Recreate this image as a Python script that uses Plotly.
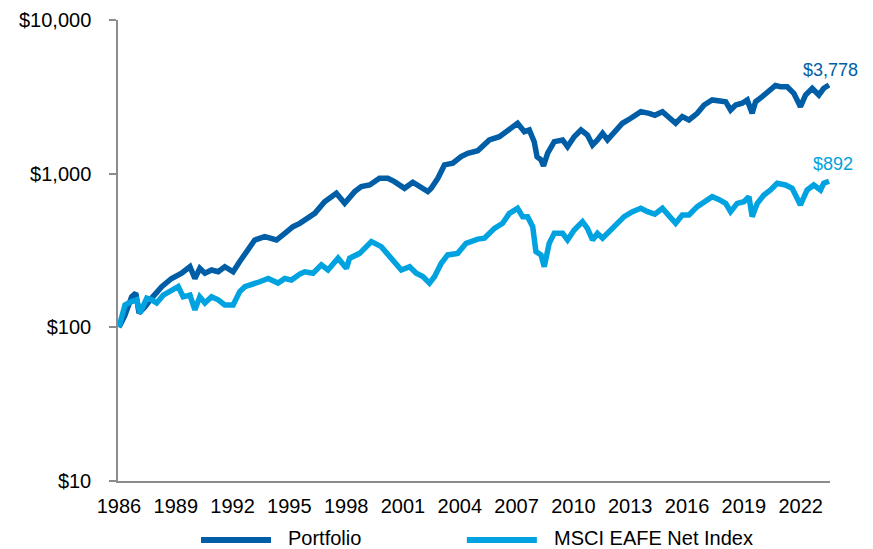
"""Growth of $100: Portfolio vs MSCI EAFE Net Index (log scale)."""

import plotly.graph_objects as go

# Portfolio, growth of $100 (x in axis years)
portfolio_years = [
    1986.00, 1986.32, 1986.67, 1986.89, 1987.06, 1987.38, 1987.73, 1988.26, 1988.78, 1989.31,
    1989.75, 1990.01, 1990.27, 1990.54, 1990.89, 1991.24, 1991.59, 1992.03, 1992.38, 1992.65,
    1992.82, 1993.17, 1993.70, 1994.32, 1994.76, 1995.19, 1995.55, 1995.81, 1996.34, 1996.86,
    1997.48, 1997.92, 1998.45, 1998.80, 1999.24, 1999.76, 2000.20, 2000.55, 2001.08, 2001.52,
    2001.96, 2002.31, 2002.49, 2002.84, 2003.19, 2003.63, 2004.07, 2004.42, 2004.95, 2005.56,
    2006.09, 2006.53, 2007.05, 2007.41, 2007.67, 2007.93, 2008.08, 2008.29, 2008.42, 2008.64,
    2008.99, 2009.43, 2009.69, 2010.04, 2010.40, 2010.74, 2011.01, 2011.27, 2011.54, 2011.80,
    2012.15, 2012.59, 2013.03, 2013.56, 2014.00, 2014.30, 2014.70, 2015.05, 2015.40, 2015.75,
    2016.10, 2016.54, 2016.90, 2017.33, 2017.67, 2018.04, 2018.30, 2018.57, 2018.91, 2019.18,
    2019.44, 2019.62, 2019.97, 2020.32, 2020.67, 2020.94, 2021.29, 2021.64, 2021.99, 2022.26,
    2022.61, 2022.96, 2023.22, 2023.50,
]
portfolio_values = [
    100, 120, 158, 167, 124, 136, 155, 184, 208, 225,
    248, 208, 242, 225, 236, 230, 248, 230, 268, 303,
    319, 370, 389, 370, 409, 452, 475, 500, 552, 657,
    745, 641, 764, 823, 844, 933, 933, 887, 803, 880,
    803, 764, 803, 933, 1140, 1169, 1290, 1358, 1410, 1657,
    1741, 1924, 2128, 1876, 1924, 1615, 1290, 1228, 1122, 1358,
    1615, 1657, 1499, 1741, 1924, 1786, 1537, 1657, 1832, 1657,
    1876, 2128, 2293, 2532, 2471, 2400, 2532, 2350, 2128, 2350,
    2236, 2471, 2799, 3017, 2980, 2940, 2597, 2799, 2871, 3017,
    2471, 2940, 3170, 3417, 3750, 3681, 3681, 3333, 2729, 3251,
    3594, 3251, 3594, 3778,
]

# MSCI EAFE Net Index, growth of $100
msci_years = [
    1986.00, 1986.32, 1986.67, 1986.94, 1987.11, 1987.47, 1987.73, 1987.99, 1988.34, 1988.69,
    1989.13, 1989.39, 1989.75, 1990.01, 1990.27, 1990.54, 1990.89, 1991.24, 1991.59, 1992.03,
    1992.38, 1992.65, 1993.00, 1993.44, 1993.88, 1994.40, 1994.76, 1995.11, 1995.55, 1995.81,
    1996.25, 1996.69, 1997.04, 1997.57, 1998.01, 1998.18, 1998.71, 1999.33, 1999.85, 2000.38,
    2000.91, 2001.35, 2001.70, 2002.05, 2002.40, 2002.67, 2003.02, 2003.36, 2003.89, 2004.33,
    2004.95, 2005.30, 2005.83, 2006.26, 2006.62, 2007.05, 2007.32, 2007.58, 2007.85, 2008.02,
    2008.29, 2008.46, 2008.72, 2008.99, 2009.43, 2009.69, 2010.04, 2010.48, 2010.74, 2011.01,
    2011.27, 2011.54, 2011.80, 2012.24, 2012.68, 2013.12, 2013.56, 2013.91, 2014.30, 2014.70,
    2015.05, 2015.40, 2015.75, 2016.10, 2016.54, 2016.90, 2017.33, 2017.67, 2018.04, 2018.30,
    2018.65, 2019.00, 2019.27, 2019.44, 2019.71, 2020.06, 2020.41, 2020.76, 2021.20, 2021.55,
    2021.99, 2022.34, 2022.69, 2023.05, 2023.22, 2023.50,
]
msci_values = [
    100, 140, 147, 151, 124, 155, 151, 144, 162, 171,
    184, 158, 162, 130, 158, 144, 158, 151, 140, 140,
    171, 184, 189, 198, 208, 194, 208, 203, 222, 230,
    225, 255, 236, 282, 242, 282, 303, 361, 335, 282,
    236, 248, 225, 214, 194, 214, 261, 296, 303, 352,
    375, 380, 441, 476, 552, 595, 525, 525, 452, 311,
    296, 248, 352, 409, 409, 370, 430, 487, 441, 370,
    409, 380, 409, 476, 525, 566, 595, 566, 545, 595,
    525, 476, 539, 539, 610, 657, 708, 680, 641, 566,
    641, 657, 708, 525, 641, 727, 783, 866, 844, 803,
    626, 783, 844, 783, 866, 892,
]

assert len(portfolio_years) == len(portfolio_values)
assert len(msci_years) == len(msci_values)

tick_years = [1986, 1989, 1992, 1995, 1998, 2001, 2004, 2007, 2010, 2013, 2016, 2019, 2022]
y_ticks = [10, 100, 1000, 10000]
y_tick_text = ["$10", "$100", "$1,000", "$10,000"]

colors = {
    "portfolio": "#005EA6",
    "msci": "#00A3E0",
    "axis": "#8C8C8C",
}
FONT = "Liberation Sans, Arial, sans-serif"

fig = go.Figure()

fig.add_trace(
    go.Scatter(
        x=portfolio_years,
        y=portfolio_values,
        mode="lines",
        name="Portfolio",
        line=dict(color=colors["portfolio"], width=5.5),
    )
)
fig.add_trace(
    go.Scatter(
        x=msci_years,
        y=msci_values,
        mode="lines",
        name="MSCI EAFE Net Index",
        line=dict(color=colors["msci"], width=5.5),
    )
)

# End-value labels (log axis: y given as log10 of the last value)
fig.add_annotation(
    x=portfolio_years[-1], y=3.577, xref="x", yref="y",
    text=f"${portfolio_values[-1]:,}", showarrow=False,
    font=dict(family=FONT, size=18, color=colors["portfolio"]),
    xshift=1, yshift=15,
)
fig.add_annotation(
    x=msci_years[-1], y=2.950, xref="x", yref="y",
    text=f"${msci_values[-1]:,}", showarrow=False,
    font=dict(family=FONT, size=18, color=colors["msci"]),
    xshift=4, yshift=17,
)

# Legend drawn by hand so the line samples are as long as in the original
legend_items = [
    ("Portfolio", colors["portfolio"], 0.1166),
    ("MSCI EAFE Net Index", colors["msci"], 0.490),
]
for label, color, x0 in legend_items:
    fig.add_shape(
        type="line", xref="paper", yref="paper",
        x0=x0, x1=x0 + 0.0983, y0=-0.128, y1=-0.128,
        line=dict(color=color, width=6),
    )
    fig.add_annotation(
        x=x0 + 0.1195, y=-0.1236, xref="paper", yref="paper",
        text=label, showarrow=False, xanchor="left", yanchor="middle",
        font=dict(family=FONT, size=20, color="#000000"),
    )

fig.update_layout(
    width=873,
    height=549,
    margin=dict(l=118, r=43, t=20, b=68),
    paper_bgcolor="white",
    plot_bgcolor="white",
    showlegend=False,
    font=dict(family=FONT, size=20, color="#000000"),
)

fig.update_xaxes(
    range=[1985.95, 2023.55],
    tickvals=tick_years,
    ticktext=[str(y) for y in tick_years],
    showline=True,
    linecolor=colors["axis"],
    linewidth=1.5,
    ticks="",
    showgrid=False,
    zeroline=False,
    automargin=False,
    ticklabelstandoff=6,
    tickfont=dict(family=FONT, size=20, color="#000000"),
)
fig.update_yaxes(
    type="log",
    range=[1, 4],
    tickvals=y_ticks,
    ticktext=y_tick_text,
    showline=True,
    linecolor=colors["axis"],
    linewidth=1.5,
    ticks="outside",
    ticklen=7,
    tickwidth=1.5,
    tickcolor=colors["axis"],
    showgrid=False,
    zeroline=False,
    automargin=False,
    ticklabelstandoff=14,
    tickfont=dict(family=FONT, size=20, color="#000000"),
)

# the page body has a default 8px margin; drop it so the figure fills the window
fig.write_html(
    "out.html",
    config={"displayModeBar": False},
    post_script="document.body.style.margin = '0';",
)
